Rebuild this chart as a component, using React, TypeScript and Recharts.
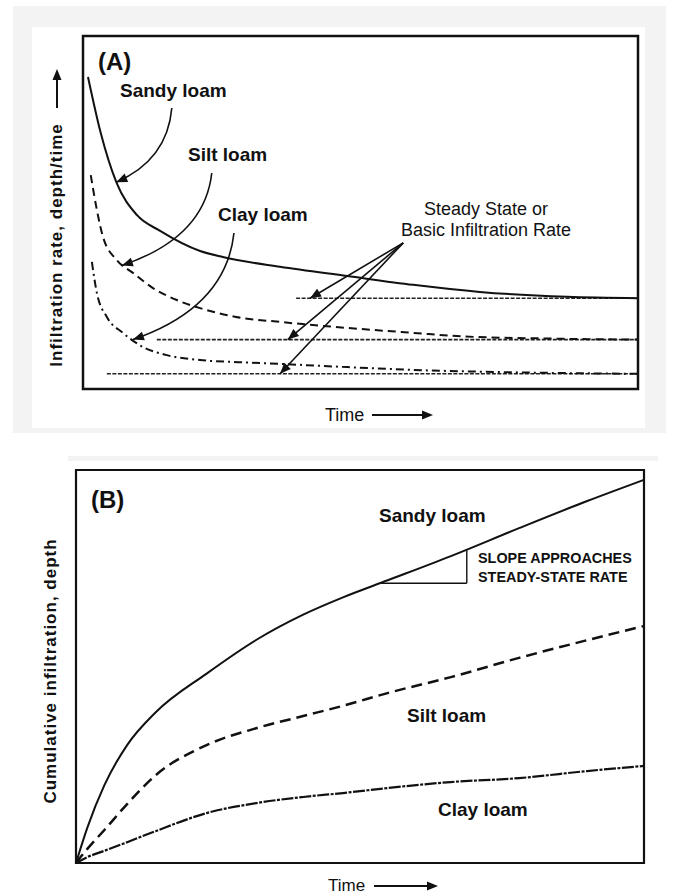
import React from "react";
import {
  LineChart,
  Line,
  XAxis,
  YAxis,
  ReferenceLine,
  ReferenceArea,
} from "recharts";

// Panel A: infiltration rate (relative units) against time (0-100)
const sandyRateTime = [0.9, 3.2, 6.0, 9.7, 13.9, 21.1, 25.2, 35.5, 47.6, 59.5, 71.5, 87.2, 100];
const sandyRate = [88.4, 72.5, 58.6, 49.3, 44.8, 39.1, 37.4, 34.6, 32.0, 29.5, 27.5, 26.1, 25.7];
const siltRateTime = [1.4, 2.5, 3.6, 6.1, 9, 12.6, 16.9, 21.1, 27.6, 35.5, 47.6, 59.5, 68.5, 83.6, 100];
const siltRate = [60.6, 50.7, 43.1, 36.5, 32.9, 28.6, 25.2, 22.9, 20.4, 19.0, 17.3, 15.9, 14.9, 14.3, 14.0];
const clayRateTime = [1.6, 2.5, 4.3, 7.2, 10.8, 15.1, 21.1, 28, 35.5, 47.6, 59.5, 75, 100];
const clayRate = [36.0, 27.2, 20.4, 15.9, 11.9, 9.6, 8.2, 7.6, 7.1, 6.2, 5.4, 4.8, 4.3];

// steady-state (basic) rates: sandy, silt, clay, and where each guide line starts
const steadyRates = [25.7, 14.0, 4.3];
const steadyStart = [38.4, 13.3, 4.3];

// callout arrows, in data units [time, rate]
const curveArrowFrom = [[16.0, 79.6], [23.2, 61.2], [27.2, 44.2]];
const curveArrowTo = [[6.0, 58.6], [7.0, 35.0], [9.0, 14.0]];
const steadyArrowFrom = [57.7, 41.4];
const steadyArrowToTime = [40.9, 36.9, 35.5];

// Panel B: cumulative infiltration against time
const cumTime = [0, 2, 5, 9, 14, 23, 32, 40, 47, 55, 66, 78, 90, 100];
const sandyCum = [0, 9.0, 19.8, 30.0, 38.3, 48.2, 57.0, 63.2, 67.6, 72.0, 78.1, 85.2, 92.1, 97.5];
const siltCum = [0, 3.6, 8.4, 15.0, 22.3, 30.0, 34.4, 37.4, 40.0, 43.3, 47.3, 52.2, 56.7, 60.3];
const clayCum = [0, 1.5, 3.1, 5.3, 8.1, 12.7, 15.3, 16.8, 17.8, 19.1, 20.6, 21.6, 23.4, 24.7];

// slope triangle under the sandy loam line
const slopeRun = [53.5, 68.8];
const slopeRise = [71.2, 79.6];

const INK = "#111";
const FONT = "'Liberation Sans', Arial, sans-serif";

const toPoints = (ts: number[], vs: number[]) => ts.map((t, i) => ({ t, v: vs[i] }));

const cumData = cumTime.map((t, i) => ({
  t,
  sandy: sandyCum[i],
  silt: siltCum[i],
  clay: clayCum[i],
}));

function headPath(fx: number, fy: number, x: number, y: number, len = 11, half = 4.5) {
  const a = Math.atan2(y - fy, x - fx);
  const bx = x - len * Math.cos(a);
  const by = y - len * Math.sin(a);
  const px = -Math.sin(a) * half;
  const py = Math.cos(a) * half;
  return `M${x},${y} L${bx + px},${by + py} L${bx - px},${by - py} Z`;
}

// bent callout arrow; tip is the segment's second point
const CurvedArrow = (p: any) => {
  const { x1, y1, x2, y2 } = p;
  const cx = x1 - 0.08 * (x1 - x2);
  const cy = y1 + 0.7 * (y2 - y1);
  return (
    <g>
      <path d={`M${x1},${y1} Q${cx},${cy} ${x2},${y2}`} fill="none" stroke={INK} strokeWidth={1.6} />
      <path d={headPath(cx, cy, x2, y2)} fill={INK} />
    </g>
  );
};

const StraightArrow = (p: any) => {
  const { x1, y1, x2, y2 } = p;
  return (
    <g>
      <line x1={x1} y1={y1} x2={x2} y2={y2} stroke={INK} strokeWidth={1.6} />
      <path d={headPath(x1, y1, x2, y2)} fill={INK} />
    </g>
  );
};

function RateChart() {
  return (
    <LineChart
      width={673}
      height={440}
      margin={{ top: 36, right: 35, bottom: 51, left: 83 }}
    >
      <XAxis type="number" dataKey="t" domain={[0, 100]} hide />
      <YAxis type="number" domain={[0, 100]} hide />
      <ReferenceArea x1={0} x2={100} y1={0} y2={100} fill="none" stroke={INK} strokeWidth={2.5} />
      {steadyRates.map((r, i) => (
        <ReferenceLine
          key={`s${i}`}
          segment={[{ x: steadyStart[i], y: r }, { x: 100, y: r }]}
          stroke="#222"
          strokeWidth={1.6}
          strokeDasharray="4 1.5"
        />
      ))}
      <Line data={toPoints(sandyRateTime, sandyRate)} dataKey="v" type="monotone" stroke={INK} strokeWidth={2} dot={false} isAnimationActive={false} />
      <Line data={toPoints(siltRateTime, siltRate)} dataKey="v" type="monotone" stroke={INK} strokeWidth={2} strokeDasharray="8 5" dot={false} isAnimationActive={false} />
      <Line data={toPoints(clayRateTime, clayRate)} dataKey="v" type="monotone" stroke={INK} strokeWidth={2} strokeDasharray="8 4 2 4" dot={false} isAnimationActive={false} />
      {curveArrowFrom.map((f, i) => (
        <ReferenceLine
          key={`c${i}`}
          segment={[{ x: f[0], y: f[1] }, { x: curveArrowTo[i][0], y: curveArrowTo[i][1] }]}
          shape={CurvedArrow}
        />
      ))}
      {steadyArrowToTime.map((t, i) => (
        <ReferenceLine
          key={`a${i}`}
          segment={[{ x: steadyArrowFrom[0], y: steadyArrowFrom[1] }, { x: t, y: steadyRates[i] }]}
          shape={StraightArrow}
        />
      ))}
    </LineChart>
  );
}

function CumulativeChart() {
  return (
    <LineChart
      width={673}
      height={454}
      data={cumData}
      margin={{ top: 30, right: 29, bottom: 31, left: 76 }}
    >
      <XAxis type="number" dataKey="t" domain={[0, 100]} hide />
      <YAxis type="number" domain={[0, 100]} hide />
      <ReferenceArea x1={0} x2={100} y1={0} y2={100} fill="none" stroke={INK} strokeWidth={2.2} />
      <Line dataKey="sandy" type="monotone" stroke={INK} strokeWidth={2} dot={false} isAnimationActive={false} />
      <Line dataKey="silt" type="monotone" stroke={INK} strokeWidth={2.5} strokeDasharray="11 6" dot={false} isAnimationActive={false} />
      <Line dataKey="clay" type="monotone" stroke={INK} strokeWidth={2.2} strokeDasharray="12 1.5 3 1.5" dot={false} isAnimationActive={false} />
      <ReferenceLine segment={[{ x: slopeRun[0], y: slopeRise[0] }, { x: slopeRun[1], y: slopeRise[0] }]} stroke={INK} strokeWidth={1.4} />
      <ReferenceLine segment={[{ x: slopeRun[1], y: slopeRise[0] }, { x: slopeRun[1], y: slopeRise[1] }]} stroke={INK} strokeWidth={1.4} />
    </LineChart>
  );
}

const bold = { fontFamily: FONT, fontWeight: 700, fill: INK } as const;
const plain = { fontFamily: FONT, fontWeight: 400, fill: INK } as const;

export default function App() {
  return (
    <div style={{ position: "absolute", left: 0, top: 0, width: 673, height: 894, background: "#fff", overflow: "hidden" }}>
      <svg width={673} height={894} style={{ position: "absolute", left: 0, top: 0 }}>
        <rect x={13} y={6} width={653} height={427} fill="#f3f3f3" />
        <rect x={32} y={27} width={613} height={401} fill="#fff" />
        <rect x={68} y={456} width={590} height={5} fill="#f3f3f3" />
      </svg>
      <div style={{ position: "absolute", left: 0, top: 0 }}>
        <RateChart />
      </div>
      <div style={{ position: "absolute", left: 0, top: 440 }}>
        <CumulativeChart />
      </div>
      <svg width={673} height={894} style={{ position: "absolute", left: 0, top: 0, pointerEvents: "none" }}>
        {/* panel A */}
        <text x={98} y={70} fontSize={24} {...bold}>(A)</text>
        <text x={120} y={97} fontSize={19} {...bold}>Sandy loam</text>
        <text x={188} y={161} fontSize={19} {...bold}>Silt loam</text>
        <text x={218} y={221} fontSize={19} {...bold}>Clay loam</text>
        <text x={486} y={215} fontSize={18} textAnchor="middle" {...plain}>Steady State or</text>
        <text x={486} y={236} fontSize={18} textAnchor="middle" {...plain}>Basic Infiltration Rate</text>
        <text transform="translate(62,245) rotate(-90)" textAnchor="middle" fontSize={17} letterSpacing={1} {...bold}>
          Infiltration rate, depth/time
        </text>
        <line x1={57} y1={108} x2={57} y2={78} stroke={INK} strokeWidth={2} />
        <path d={headPath(57, 108, 57, 69, 11, 4.5)} fill={INK} />
        <text x={325} y={421} fontSize={18} {...plain}>Time</text>
        <line x1={372} y1={415} x2={424} y2={415} stroke={INK} strokeWidth={2} />
        <path d={headPath(372, 415, 433, 415, 11, 4.5)} fill={INK} />

        {/* panel B */}
        <text x={91} y={508} fontSize={24} {...bold}>(B)</text>
        <text x={379} y={522} fontSize={19} {...bold}>Sandy loam</text>
        <text x={407} y={722} fontSize={19} {...bold}>Silt loam</text>
        <text x={438} y={816} fontSize={19} {...bold}>Clay loam</text>
        <text x={478} y={563} fontSize={14.4} {...bold}>SLOPE APPROACHES</text>
        <text x={478} y={582} fontSize={14.4} {...bold}>STEADY-STATE RATE</text>
        <text transform="translate(56,671) rotate(-90)" textAnchor="middle" fontSize={17} letterSpacing={1} {...bold}>
          Cumulative infiltration, depth
        </text>
        <text x={328} y={891} fontSize={17} {...plain}>Time</text>
        <line x1={374} y1={886} x2={429} y2={886} stroke={INK} strokeWidth={2} />
        <path d={headPath(374, 886, 438, 886, 11, 4.5)} fill={INK} />
      </svg>
    </div>
  );
}
